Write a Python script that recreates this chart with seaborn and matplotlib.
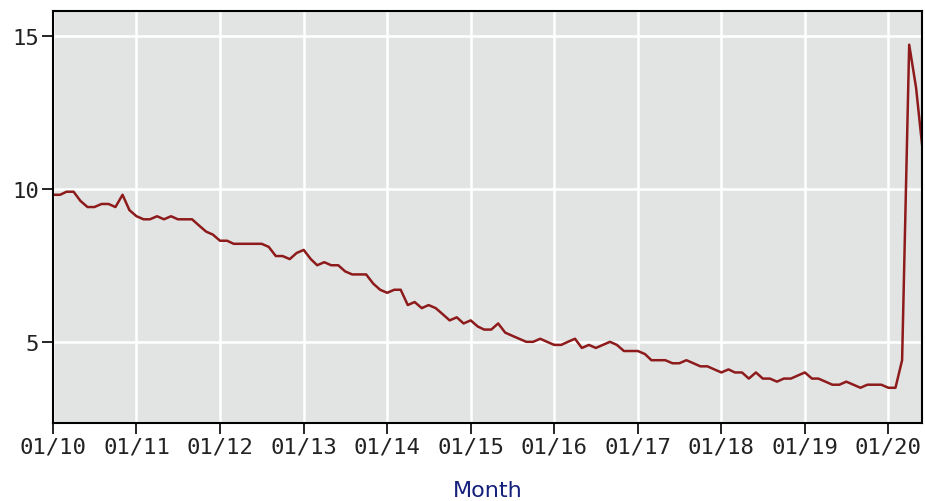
import pandas as pd
import matplotlib.pyplot as plt
import matplotlib.dates as mdates
import seaborn as sns

# Monthly unemployment rate, Jan 2010 - Jun 2020
rate_2010 = [9.8, 9.8, 9.9, 9.9, 9.6, 9.4, 9.4, 9.5, 9.5, 9.4, 9.8, 9.3]
rate_2011 = [9.1, 9.0, 9.0, 9.1, 9.0, 9.1, 9.0, 9.0, 9.0, 8.8, 8.6, 8.5]
rate_2012 = [8.3, 8.3, 8.2, 8.2, 8.2, 8.2, 8.2, 8.1, 7.8, 7.8, 7.7, 7.9]
rate_2013 = [8.0, 7.7, 7.5, 7.6, 7.5, 7.5, 7.3, 7.2, 7.2, 7.2, 6.9, 6.7]
rate_2014 = [6.6, 6.7, 6.7, 6.2, 6.3, 6.1, 6.2, 6.1, 5.9, 5.7, 5.8, 5.6]
rate_2015 = [5.7, 5.5, 5.4, 5.4, 5.6, 5.3, 5.2, 5.1, 5.0, 5.0, 5.1, 5.0]
rate_2016 = [4.9, 4.9, 5.0, 5.1, 4.8, 4.9, 4.8, 4.9, 5.0, 4.9, 4.7, 4.7]
rate_2017 = [4.7, 4.6, 4.4, 4.4, 4.4, 4.3, 4.3, 4.4, 4.3, 4.2, 4.2, 4.1]
rate_2018 = [4.0, 4.1, 4.0, 4.0, 3.8, 4.0, 3.8, 3.8, 3.7, 3.8, 3.8, 3.9]
rate_2019 = [4.0, 3.8, 3.8, 3.7, 3.6, 3.6, 3.7, 3.6, 3.5, 3.6, 3.6, 3.6]
rate_2020 = [3.5, 3.5, 4.4, 14.7, 13.3, 11.1]

rates = (rate_2010 + rate_2011 + rate_2012 + rate_2013 + rate_2014 + rate_2015
         + rate_2016 + rate_2017 + rate_2018 + rate_2019 + rate_2020)
months = pd.date_range('2010-01-01', periods=len(rates), freq='MS')
df = pd.DataFrame({'Month': months, 'Rate': rates})

sns.set_style('darkgrid', {'axes.facecolor': '#e2e4e4', 'grid.color': 'white',
                           'axes.edgecolor': 'black'})

fig = plt.figure(figsize=(9.25, 5.02), dpi=100)
ax = fig.add_axes([53 / 925, 1 - 424 / 502, (922 - 53) / 925, (424 - 12) / 502])
sns.lineplot(data=df, x='Month', y='Rate', color='#8e1b1b', linewidth=1.8, ax=ax)

ax.set_xlim(pd.Timestamp('2010-01-01'), pd.Timestamp('2020-05-27'))
ax.set_ylim(2.35, 15.8)
ax.set_yticks([5, 10, 15])
ax.xaxis.set_major_locator(mdates.YearLocator())
ax.xaxis.set_major_formatter(mdates.DateFormatter('%m/%y'))
ax.grid(True, color='white', linewidth=1.8)

for s in ax.spines.values():
    s.set_visible(True)
    s.set_color('black')
    s.set_linewidth(1.5)

ax.tick_params(axis='both', direction='out', length=8, width=1.2, color='black',
               labelsize=16, pad=2, bottom=True, left=True)
for lab in ax.get_xticklabels() + ax.get_yticklabels():
    lab.set_family('DejaVu Sans Mono')
    lab.set_color('#222222')

ax.set_ylabel('')
ax.set_xlabel('Month', color='#14207a', fontsize=16, labelpad=17)

plt.savefig('out.png', dpi=100)
